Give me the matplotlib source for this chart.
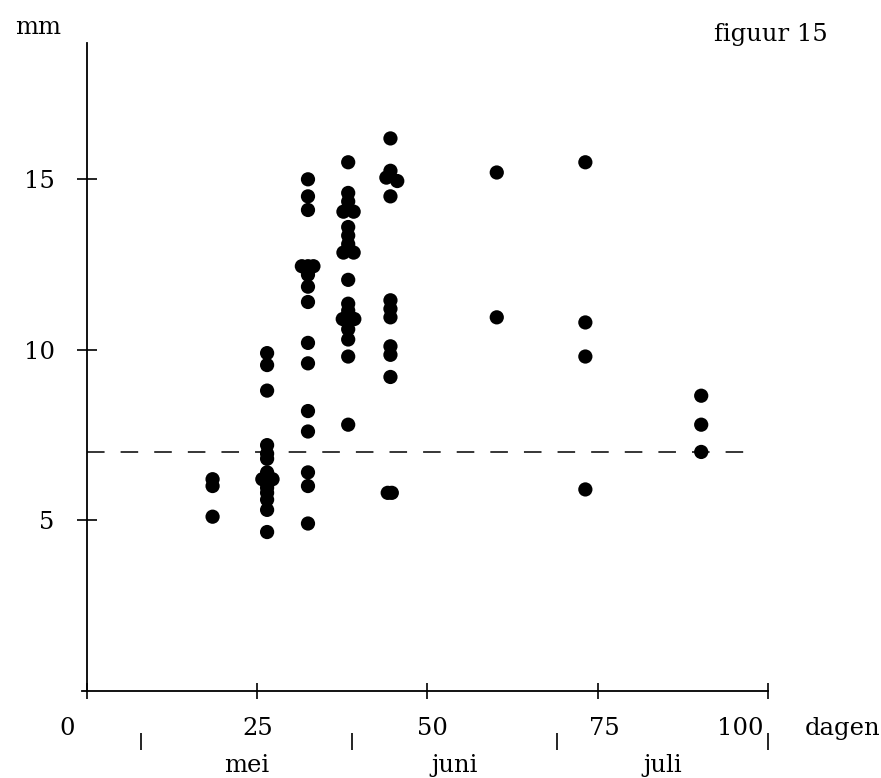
import matplotlib
matplotlib.use("Agg")
import matplotlib.pyplot as plt

# ---- data (days, mm) ----
days_a = [18.5, 18.5, 18.5]
mm_a = [6.2, 6.0, 5.1]

days_b = [26.5, 26.5, 26.5, 26.5, 26.5, 26.5, 26.5, 25.8, 27.3, 26.5, 26.5, 26.5, 26.5, 26.5, 26.5]
mm_b = [9.9, 9.55, 8.8, 7.2, 6.95, 6.8, 6.4, 6.2, 6.2, 6.1, 5.95, 5.8, 5.6, 5.3, 4.65]

days_c = [32.5, 32.5, 32.5, 31.6, 32.5, 33.3, 32.5, 32.5, 32.5, 32.5, 32.5, 32.5, 32.5, 32.5, 32.5, 32.5]
mm_c = [15.0, 14.5, 14.1, 12.45, 12.45, 12.45, 12.2, 11.85, 11.4, 10.2, 9.6, 8.2, 7.6, 6.4, 6.0, 4.9]

days_d = [38.4, 38.4, 38.4, 37.7, 39.2, 38.4, 38.4, 38.4, 37.7, 39.2, 38.4, 38.4, 38.4, 37.6, 38.4, 39.3, 38.4, 38.4, 38.4, 38.4]
mm_d = [15.5, 14.6, 14.35, 14.05, 14.05, 13.6, 13.35, 13.1, 12.85, 12.85, 12.05, 11.35, 11.15, 10.9, 10.85, 10.9, 10.6, 10.3, 9.8, 7.8]

days_e = [44.6, 44.6, 44.0, 45.6, 44.6, 44.6, 44.6, 44.6, 44.6, 44.6, 44.6, 44.2, 44.8]
mm_e = [16.2, 15.25, 15.05, 14.95, 14.5, 11.45, 11.2, 10.95, 10.1, 9.85, 9.2, 5.8, 5.8]

days_f = [60.2, 60.2]
mm_f = [15.2, 10.95]

days_g = [73.2, 73.2, 73.2, 73.2]
mm_g = [15.5, 10.8, 9.8, 5.9]

days_h = [90.2, 90.2, 90.2]
mm_h = [8.65, 7.8, 7.0]

threshold_mm = 7.0
xticks = [0, 25, 50, 75, 100]
xtick_labels = ["0", "25", "50", "75", "100"]
yticks = [5, 10, 15]
ytick_labels = ["5", "10", "15"]
month_bounds = [8, 39, 69, 100]
months = ["mei", "juni", "juli"]

# ---- figure ----
W, H = 881, 778
fig = plt.figure(figsize=(W / 100, H / 100), dpi=100)
plt.rcParams["font.family"] = ["DejaVu Serif"]
FS = 17.5

x0px, x1px = 86.5, 768.0
y0px, y1px = 690.5, 43.0
ax = fig.add_axes([x0px / W, 1 - y0px / H, (x1px - x0px) / W, (y0px - y1px) / H])
ax.set_xlim(0, 100)
ax.set_ylim(0, 19)

for s in ["top", "right"]:
    ax.spines[s].set_visible(False)
for s in ["left", "bottom"]:
    ax.spines[s].set_linewidth(1.3)
    ax.spines[s].set_color("black")
ax.spines["bottom"].set_bounds(-0.6, 100)

ax.set_xticks(xticks)
ax.set_xticklabels([])
ax.tick_params(axis="x", direction="inout", length=11, width=1.2)
ax.set_yticks(yticks)
ax.set_yticklabels(ytick_labels, fontsize=FS)
ax.tick_params(axis="y", direction="inout", length=14, width=1.2, pad=16)

# dashed threshold line
ax.plot([0, 97.2], [threshold_mm, threshold_mm], color="black", lw=1.1,
        dashes=(11.5, 10.5), clip_on=False)

# points
all_days = [days_a, days_b, days_c, days_d, days_e, days_f, days_g, days_h]
all_mm = [mm_a, mm_b, mm_c, mm_d, mm_e, mm_f, mm_g, mm_h]
for d, m in zip(all_days, all_mm):
    ax.scatter(d, m, s=105, color="black", edgecolors="none", zorder=3, clip_on=False)

# x tick labels (placed as in the original)
label_offsets = [-2.9, 0.1, 0.7, 1.0, -4.1]
for xt, lab, off in zip(xticks, xtick_labels, label_offsets):
    ax.text(xt + off, -1.12, lab, ha="center", va="center", fontsize=FS, clip_on=False)

# month separators and names
ax.vlines(month_bounds, -1.25, -1.74, color="black", lw=1.2, clip_on=False)
for i, name in enumerate(months):
    mid = (month_bounds[i] + month_bounds[i + 1]) / 2
    ax.text(mid, -2.2, name, ha="center", va="center", fontsize=FS, clip_on=False)

ax.text(111.0, -1.12, "dagen", ha="center", va="center", fontsize=FS, clip_on=False)
fig.text(38 / W, 1 - 27 / H, "mm", ha="center", va="center", fontsize=FS)
fig.text(771 / W, 1 - 34 / H, "figuur 15", ha="center", va="center", fontsize=FS)

fig.savefig("out.png", dpi=100, facecolor="white")
